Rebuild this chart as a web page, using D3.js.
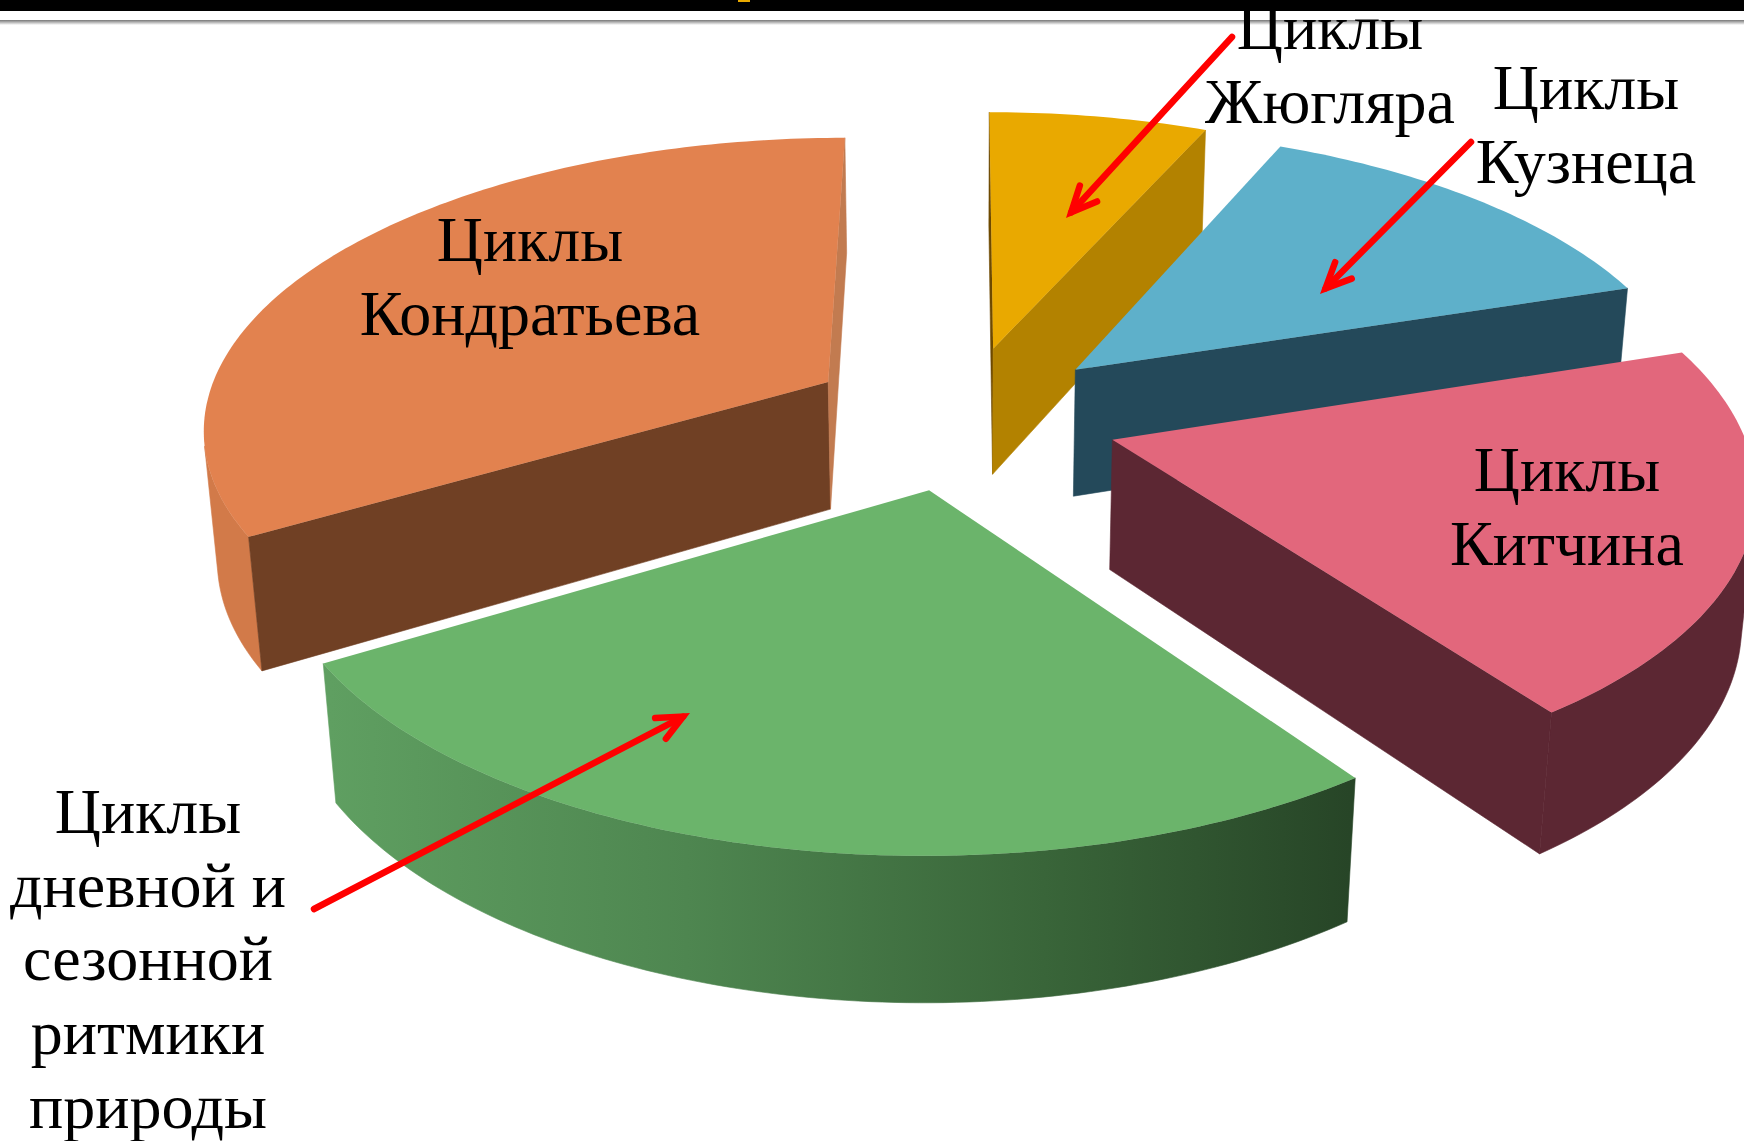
<!DOCTYPE html>
<html>
<head>
<meta charset="utf-8">
<script src="https://cdn.jsdelivr.net/npm/d3@7/dist/d3.min.js"></script>
<style>
	html, body { margin: 0; padding: 0; background: #fff; overflow: hidden; }
	text { font-family: "Liberation Serif", serif; fill: #000; text-anchor: middle; }
</style>
</head>
<body>
<div id="chart"></div>
<script>
// values, clockwise from the top of the pie
const sliceNames = ["Жюгляр", "Кузнец", "Китчин", "Сезонные", "Кондратьев"];
const sliceValues = [6.6, 13.4, 20.1, 26.3, 33.6];

const topColors = ["#E9A900", "#5EB0CA", "#E2677C", "#6BB46B", "#E2824F"];
const cutStartColors = ["#6E4A00", "#24495A", "#5C2733", "#2B4A2B", "#704024"];
const cutEndColors = ["#B38200", "#24495A", "#5C2733", "#2B4A2B", "#C27B50"];
const outerColors = ["#B38200", "#24495A", "#5C2733", "url(#greenWall)", "#D27A49"];

const labelLines = [
	["Циклы", "Жюгляра"],
	["Циклы", "Кузнеца"],
	["Циклы", "Китчина"],
	["Циклы", "дневной и", "сезонной", "ритмики", "природы"],
	["Циклы", "Кондратьева"],
];
// centre x, first baseline
const labelPos = [[1330, 49], [1586, 109], [1567, 491], [148, 833], [530, 261]];

// [from, tip] in page pixels
const arrows = [
	[[1232, 37], [1066, 218]],
	[[1471, 142], [1320, 294]],
	[[314, 909], [690, 713]],
];

const width = 1744;
const height = 1141;
const explode = 0.25;
const perspective = 0.1448;
const depthPersp = 0.018;
const depth = 131;

const svg = d3.select("#chart").append("svg")
	.attr("width", width)
	.attr("height", height)
	.style("display", "block");

const defs = svg.append("defs");
const grad = defs.append("linearGradient")
	.attr("id", "greenWall")
	.attr("gradientUnits", "userSpaceOnUse")
	.attr("x1", 330).attr("x2", 1350).attr("y1", 0).attr("y2", 0);
[[0, "#5F9F61"], [0.35, "#4E8650"], [0.7, "#396539"], [1, "#274527"]].forEach((s) => {
	grad.append("stop").attr("offset", s[0]).attr("stop-color", s[1]);
});
const shade = defs.append("linearGradient")
	.attr("id", "stripShade")
	.attr("x1", 0).attr("x2", 0).attr("y1", 0).attr("y2", 1);
shade.append("stop").attr("offset", 0).attr("stop-color", "#777");
shade.append("stop").attr("offset", 1).attr("stop-color", "#fff");

// shadow line of the slide header sits under the text
svg.append("rect").attr("x", 0).attr("y", 20).attr("width", width).attr("height", 5).attr("fill", "url(#stripShade)");

const xScale = d3.scaleLinear().domain([-1, 1]).range([962 - 626, 962 + 626]);
const yScale = d3.scaleLinear().domain([-1, 1]).range([417 - 289, 417 + 289]);

// world x,y on the pie plane, z=0 top face, z=1 bottom face
const project = (x, y, z) => {
	const w = 1 - perspective * y + depthPersp * z;
	return [xScale(x / w), yScale(y / w) + (depth * z) / w];
};

const pie = d3.pie().sort(null).value((d) => d).startAngle(0).endAngle(2 * Math.PI);
const arcs = pie(sliceValues).map((a) => {
	const mid = (a.startAngle + a.endAngle) / 2;
	return {
		index: a.index,
		start: a.startAngle,
		end: a.endAngle,
		ox: explode * Math.sin(mid),
		oy: -explode * Math.cos(mid),
	};
});

const line = d3.line();
const closed = (pts) => line(pts) + "Z";

const wall = (p, q) => [
	project(p[0], p[1], 0),
	project(q[0], q[1], 0),
	project(q[0], q[1], 1),
	project(p[0], p[1], 1),
];

const face = (g, pts, color) => {
	g.append("path")
		.attr("d", closed(pts))
		.attr("fill", color)
		.attr("stroke", color)
		.attr("stroke-width", 0.6);
};

const pieG = svg.append("g");

// back slices first
arcs.slice().sort((a, b) => a.oy - b.oy).forEach((s) => {
	const g = pieG.append("g");
	const steps = Math.ceil((s.end - s.start) * 60);
	const rim = d3.range(steps + 1).map((i) => {
		const a = s.start + ((s.end - s.start) * i) / steps;
		return [s.ox + Math.sin(a), s.oy - Math.cos(a)];
	});
	const apex = [s.ox, s.oy];

	// outer wall, only the part facing the viewer
	let run = [];
	const flush = () => {
		if (run.length > 1) {
			const pts = run.map((p) => project(p[0], p[1], 0))
				.concat(run.slice().reverse().map((p) => project(p[0], p[1], 1)));
			face(g, pts, outerColors[s.index]);
		}
		run = [];
	};
	for (let i = 0; i < rim.length - 1; i++) {
		if (d3.polygonArea(wall(rim[i], rim[i + 1])) > 0) {
			if (!run.length) run.push(rim[i]);
			run.push(rim[i + 1]);
		} else {
			flush();
		}
	}
	flush();

	// the two cut faces
	const a = wall(apex, rim[0]);
	if (d3.polygonArea(a) > 0) face(g, a, cutStartColors[s.index]);
	const b = wall(rim[rim.length - 1], apex);
	if (d3.polygonArea(b) > 0) face(g, b, cutEndColors[s.index]);

	const top = [apex].concat(rim).map((p) => project(p[0], p[1], 0));
	g.append("path").attr("d", closed(top)).attr("fill", topColors[s.index]);
});

// labels
const fontSize = 64;
const lineGap = 73.7;
labelLines.forEach((lines, i) => {
	const t = svg.append("text").attr("font-size", fontSize);
	lines.forEach((l, j) => {
		t.append("tspan")
			.attr("x", labelPos[i][0])
			.attr("y", labelPos[i][1] + j * lineGap)
			.text(l);
	});
});

// arrows
const barb = 28;
const spread = 0.43;
const arrowWidth = 6.5;
const arrowG = svg.append("g")
	.attr("fill", "none")
	.attr("stroke", "#FF0000")
	.attr("stroke-width", arrowWidth)
	.attr("stroke-linecap", "round")
	.attr("stroke-linejoin", "miter")
	.attr("stroke-miterlimit", 10);
arrows.forEach(([from, tip]) => {
	const ang = Math.atan2(from[1] - tip[1], from[0] - tip[0]);
	// miter join sticks out past the vertex, pull it back so the point lands on the tip
	const back = arrowWidth / 2 / Math.sin(spread);
	const to = [tip[0] + back * Math.cos(ang), tip[1] + back * Math.sin(ang)];
	const b1 = [to[0] + barb * Math.cos(ang + spread), to[1] + barb * Math.sin(ang + spread)];
	const b2 = [to[0] + barb * Math.cos(ang - spread), to[1] + barb * Math.sin(ang - spread)];
	arrowG.append("path").attr("d", line([from, to]));
	arrowG.append("path").attr("d", line([b1, to, b2]));
});

// black header bar goes over the text, as on the slide
const strip = svg.append("g");
strip.append("rect").attr("x", 0).attr("y", 0).attr("width", width).attr("height", 11).attr("fill", "#000");
strip.append("rect").attr("x", 738).attr("y", 0).attr("width", 12).attr("height", 2).attr("fill", "#E9A900");
</script>
</body>
</html>
